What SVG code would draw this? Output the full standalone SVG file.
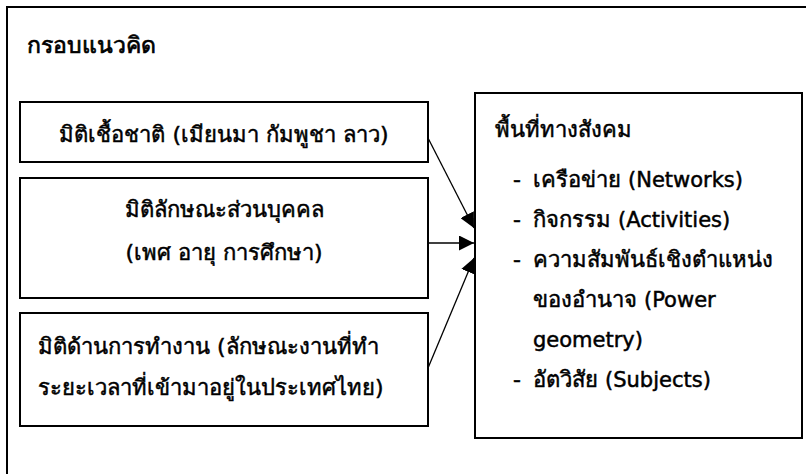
<svg xmlns="http://www.w3.org/2000/svg" width="806" height="474" viewBox="0 0 806 474">
<style>
text{font-family:"DejaVu Sans","Noto Sans",sans-serif;font-size:22px;fill:#000;stroke:#000;stroke-width:0.5px;}
.t{font-size:23px;stroke-width:0.7px;}
.n{font-size:21px;}
.b{fill:#fff;stroke:#000;stroke-width:2;}
.c{stroke:#000;stroke-width:1.3;fill:none;}
</style>
<defs>
<marker id="ah" viewBox="0 0 10 10" refX="10" refY="5" markerWidth="15" markerHeight="15" markerUnits="userSpaceOnUse" orient="auto"><path d="M0,0 L10,5 L0,10 z" fill="#000"/></marker>
</defs>
<rect width="806" height="474" fill="#fff"/>
<g id="frame"><rect x="7" y="7" width="810" height="480" class="b"/><text class="t" x="27" y="53">กรอบแนวคิด</text></g>
<g id="n1"><rect x="20" y="102" width="408" height="60" class="b"/><text x="224" y="142" text-anchor="middle">มิติเชื้อชาติ (เมียนมา กัมพูชา ลาว)</text></g>
<g id="n2"><rect x="20" y="178" width="408" height="120" class="b"/><text x="224" y="217" text-anchor="middle">มิติลักษณะส่วนบุคคล</text><text x="224" y="260" text-anchor="middle">(เพศ อายุ การศึกษา)</text></g>
<g id="n3"><rect x="20" y="313" width="408" height="113" class="b"/><text x="38" y="354">มิติด้านการทำงาน (ลักษณะงานที่ทำ</text><text x="38" y="395">ระยะเวลาที่เข้ามาอยู่ในประเทศไทย)</text></g>
<g id="n4"><rect x="475" y="93" width="327" height="345" class="b"/>
<text x="495" y="137">พื้นที่ทางสังคม</text>
<text x="513" y="187">-</text><text x="533" y="187">เครือข่าย <tspan class="n">(Networks)</tspan></text>
<text x="513" y="227">-</text><text x="533" y="227">กิจกรรม <tspan class="n">(Activities)</tspan></text>
<text x="513" y="267">-</text><text x="533" y="267">ความสัมพันธ์เชิงตำแหน่ง</text>
<text x="533" y="307">ของอำนาจ <tspan class="n">(Power</tspan></text>
<text x="533" y="347" class="n">geometry)</text>
<text x="513" y="387">-</text><text x="533" y="387">อัตวิสัย <tspan class="n">(Subjects)</tspan></text>
</g>
<g id="connectors">
<line x1="428" y1="138" x2="474" y2="228" class="c" marker-end="url(#ah)"/>
<line x1="428" y1="243" x2="474" y2="243" class="c" marker-end="url(#ah)"/>
<line x1="428" y1="368" x2="474" y2="258" class="c" marker-end="url(#ah)"/>
</g>
</svg>
